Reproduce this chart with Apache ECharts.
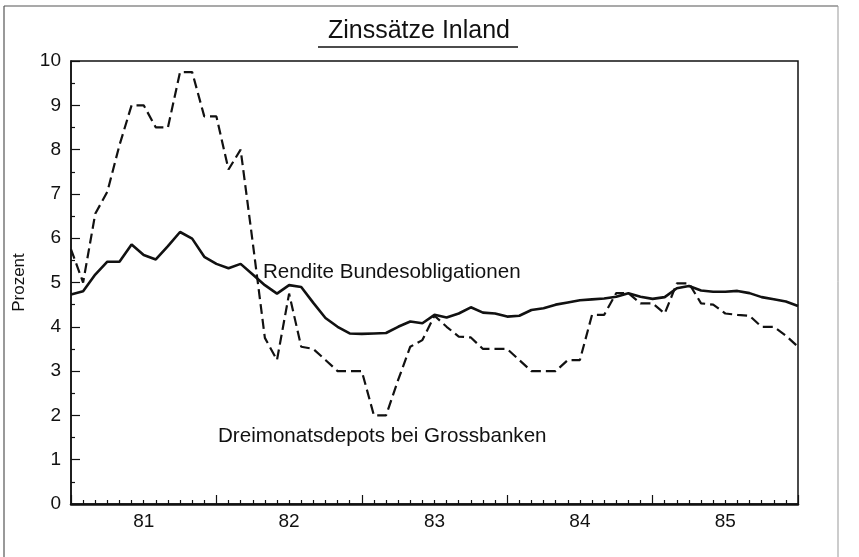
<!DOCTYPE html>
<html>
<head>
<meta charset="utf-8">
<title>Zinssätze Inland</title>
<script src="https://cdn.jsdelivr.net/npm/echarts@6/dist/echarts.min.js"></script>
<style>
  html, body { margin: 0; padding: 0; background: #fff; }
  #chart { width: 859px; height: 557px; }
</style>
</head>
<body>
<div id="chart"></div>
<script>
// Monatswerte Jan 1981 .. Jan 1986 (Index 0..60)
var yearLabels = ['81', '82', '83', '84', '85'];

var rendite = [
  4.73, 4.8, 5.18, 5.47, 5.47, 5.86, 5.62, 5.52, 5.82, 6.14, 5.99, 5.58,
  5.42, 5.32, 5.42, 5.18, 4.94, 4.75, 4.94, 4.9, 4.54, 4.2, 4.0, 3.85,
  3.84, 3.85, 3.86, 4.0, 4.12, 4.08, 4.27, 4.21, 4.3, 4.44, 4.32, 4.3,
  4.23, 4.25, 4.38, 4.42, 4.5, 4.55, 4.6, 4.62, 4.64, 4.68, 4.76, 4.68,
  4.63, 4.67, 4.87, 4.92, 4.82, 4.79, 4.79, 4.81, 4.76, 4.67, 4.62, 4.57,
  4.47
];

var depots = [
  5.75, 5.0, 6.55, 7.05, 8.1, 9.0, 9.0, 8.5, 8.5, 9.75, 9.75, 8.75,
  8.75, 7.55, 8.0, 5.9, 3.75, 3.25, 4.75, 3.55, 3.5, 3.25, 3.0, 3.0,
  3.0, 2.0, 2.0, 2.8, 3.55, 3.7, 4.25, 4.0, 3.78, 3.76, 3.5, 3.5,
  3.5, 3.25, 3.0, 3.0, 3.0, 3.25, 3.25, 4.27, 4.27, 4.76, 4.76, 4.53,
  4.53, 4.3, 4.98, 4.98, 4.53, 4.5, 4.3, 4.27, 4.25, 4.0, 4.0, 3.8,
  3.55
];

var font = "'Liberation Sans', Arial, Helvetica, sans-serif";

function toPairs(arr) {
  var out = [];
  for (var i = 0; i < arr.length; i++) {
    out.push([i, arr[i]]);
  }
  return out;
}

var chart = echarts.init(document.getElementById('chart'));

var option = {
  animation: false,
  backgroundColor: '#fff',
  grid: {
    left: 71, right: 61, top: 61, bottom: 53,
    show: true, borderColor: '#111', borderWidth: 1.5
  },
  xAxis: [
    {
      type: 'value', min: 0, max: 60, interval: 12,
      axisLine: { show: true, onZero: false, lineStyle: { color: '#111', width: 2.5 } },
      axisTick: { show: true, inside: true, length: 9, lineStyle: { color: '#111', width: 1.2 } },
      minorTick: { show: true, splitNumber: 12, length: 4, lineStyle: { color: '#111', width: 1.2 } },
      axisLabel: { show: false },
      splitLine: { show: false }
    },
    {
      // nur Jahresbeschriftung in Jahresmitte
      type: 'value', min: 0, max: 60, interval: 6, position: 'bottom',
      axisLine: { show: false },
      axisTick: { show: false },
      splitLine: { show: false },
      axisLabel: {
        show: true, margin: 8, color: '#111', fontSize: 19, fontFamily: font,
        formatter: function (v) {
          if (v % 12 === 6) return yearLabels[(v - 6) / 12];
          return '';
        }
      }
    }
  ],
  yAxis: {
    type: 'value', min: 0, max: 10, interval: 1,
    name: 'Prozent', nameLocation: 'middle', nameGap: 43,
    nameTextStyle: { color: '#111', fontSize: 17, fontFamily: font },
    axisLine: { show: true, lineStyle: { color: '#111', width: 1.5 } },
    axisTick: { show: true, inside: true, length: 9, lineStyle: { color: '#111', width: 1.2 } },
    minorTick: { show: true, splitNumber: 2, length: 4, lineStyle: { color: '#111', width: 1.2 } },
    axisLabel: { color: '#111', fontSize: 19, fontFamily: font, margin: 10 },
    splitLine: { show: false }
  },
  series: [
    {
      name: 'Rendite Bundesobligationen',
      type: 'line', data: toPairs(rendite), symbol: 'none',
      lineStyle: { color: '#111', width: 2.6, type: 'solid' },
      z: 3
    },
    {
      name: 'Dreimonatsdepots bei Grossbanken',
      type: 'line', data: toPairs(depots), symbol: 'none',
      lineStyle: { color: '#111', width: 2.2, type: [10, 5] },
      z: 2
    }
  ],
  graphic: [
    // Rahmen
    { type: 'line', shape: { x1: 4, y1: 6, x2: 838, y2: 6 }, style: { stroke: '#555', lineWidth: 1.2 } },
    { type: 'line', shape: { x1: 4, y1: 6, x2: 4, y2: 557 }, style: { stroke: '#555', lineWidth: 1.2 } },
    { type: 'line', shape: { x1: 838, y1: 6, x2: 838, y2: 557 }, style: { stroke: '#999', lineWidth: 1 } },
    // Titel mit Unterstreichung
    {
      type: 'text', x: 419, y: 19,
      style: { text: 'Zinssätze Inland', fill: '#111', fontSize: 25, fontFamily: font, align: 'center' }
    },
    { type: 'line', shape: { x1: 318, y1: 47, x2: 518, y2: 47 }, style: { stroke: '#111', lineWidth: 1.5 } },
    // Serienbeschriftung
    {
      type: 'text', left: 263, top: 262,
      style: { text: 'Rendite Bundesobligationen', fill: '#111', fontSize: 20.6, fontFamily: font }
    },
    {
      type: 'text', left: 218, top: 426,
      style: { text: 'Dreimonatsdepots bei Grossbanken', fill: '#111', fontSize: 20.6, fontFamily: font }
    }
  ]
};

chart.setOption(option);
</script>
</body>
</html>
